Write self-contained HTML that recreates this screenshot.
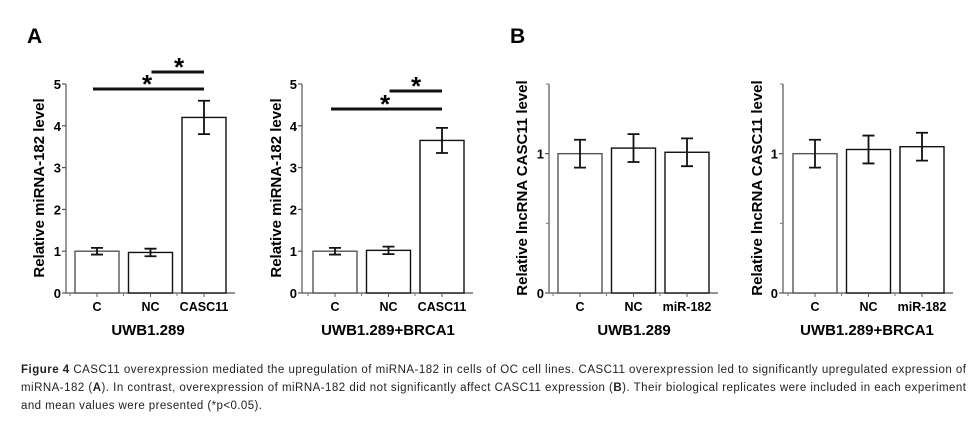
<!DOCTYPE html>
<html><head><meta charset="utf-8"><style>
body{margin:0;background:#fff;width:978px;height:429px;overflow:hidden}
svg{display:block}
text{font-family:"Liberation Sans",Arial,sans-serif}
</style></head><body>
<svg id="fig" width="978" height="429"></svg>
<script>
const catsA = ["C","NC","CASC11"];
const catsB = ["C","NC","miR-182"];
const valsA1 = [1.0, 0.97, 4.2];
const errA1 = [0.08, 0.09, 0.4];
const valsA2 = [1.0, 1.02, 3.65];
const errA2 = [0.08, 0.09, 0.3];
const valsB1 = [1.0, 1.04, 1.01];
const errB1 = [0.1, 0.1, 0.1];
const valsB2 = [1.0, 1.03, 1.05];
const errB2 = [0.1, 0.1, 0.1];
const ticksA = [0,1,2,3,4,5];
const ticksB = [0,1];
const minorB = [0.5,1.5];

const NS="http://www.w3.org/2000/svg";
const svg=document.getElementById('fig');
function el(tag,attrs,parent,txt){const e=document.createElementNS(NS,tag);for(const k in attrs)e.setAttribute(k,attrs[k]);if(txt!==undefined)e.textContent=txt;(parent||svg).appendChild(e);return e;}

function chart(o){
  const g=el('g',{});
  
  
  const y=v=>o.y0-(v/o.max)*(o.y0-o.yTop);
  const bw=44, step=o.step;
  const bx=i=>o.firstBar+i*step;
  const ya=el('line',{x1:o.ax,y1:o.y0,x2:o.ax,y2:o.yTop,stroke:'#555','stroke-width':1.2},g);
  
  const xa=el('line',{x1:o.ax,y1:o.y0,x2:o.axEnd,y2:o.y0,stroke:'#555','stroke-width':1.2},g);
  
  o.ticks.forEach(t=>{
    el('line',{x1:o.ax-4,y1:y(t),x2:o.ax,y2:y(t),stroke:'#555','stroke-width':1.2},g);
    const tl=el('text',{x:o.ax-5,y:y(t)+5,'text-anchor':'end','font-size':13,'font-weight':'bold'},g,String(t));
    
  });
  (o.minor||[]).forEach(t=>el('line',{x1:o.ax-3,y1:y(t),x2:o.ax,y2:y(t),stroke:'#777','stroke-width':1},g));
  o.vals.forEach((v,i)=>{
    const x=bx(i);
    const r=el('rect',{x:x,y:y(v),width:bw,height:o.y0-y(v),fill:'#fff',stroke:i===0?'#555':'#111','stroke-width':1.4},g);
    
    const cx=x+bw/2, hi=y(v+o.err[i]), lo=y(v-o.err[i]);
    const eb=el('path',{d:`M${cx},${hi}V${lo}M${cx-6},${hi}H${cx+6}M${cx-6},${lo}H${cx+6}`,stroke:'#111','stroke-width':1.8,fill:'none'},g);
    
    el('line',{x1:cx,y1:o.y0,x2:cx,y2:o.y0+4,stroke:'#555'},g);
    el('line',{x1:x-5,y1:o.y0,x2:x-5,y2:o.y0+3,stroke:'#777'},g);
    const xl=el('text',{x:cx,y:311,'text-anchor':'middle','font-size':12.5,'font-weight':'bold'},g,o.cats[i]);
    
  });
  const yt=el('text',{x:0,y:0,transform:`translate(${o.ylx},${o.ylc}) rotate(-90)`,'text-anchor':'middle','font-size':15,'font-weight':'bold'},g,o.ylabel);
  
  const ct=el('text',{x:o.tx,y:335,'text-anchor':'middle','font-size':15,'font-weight':'bold'},g,o.title);
  
  (o.sig||[]).forEach(s=>{
    const l=el('line',{x1:bx(s[0])+bw/2-s[3],y1:s[2],x2:bx(s[1])+bw/2,y2:s[2],stroke:'#111','stroke-width':3},g);
    
    const st=el('text',{x:s[4],y:s[2]+4,'text-anchor':'middle','font-size':26,'font-weight':'bold'},g,'*');
    
  });
}
chart({name:'chart-a-uwb1289',cats:catsA,vals:valsA1,err:errA1,ticks:ticksA,max:5,y0:293,yTop:84,ax:66,axEnd:235,firstBar:75,step:53.5,ylx:44,ylc:188,ylabel:'Relative miRNA-182 level',title:'UWB1.289',tx:148,
  sig:[[0,2,89,4,147],[1,2,72,-1,179]]});
chart({name:'chart-a-uwb1289-brca1',cats:catsA,vals:valsA2,err:errA2,ticks:ticksA,max:5,y0:293,yTop:84,ax:302,axEnd:473,firstBar:313,step:53.5,ylx:281,ylc:188,ylabel:'Relative miRNA-182 level',title:'UWB1.289+BRCA1',tx:388,
  sig:[[0,2,109,4,385],[1,2,91,-1,416]]});
chart({name:'chart-b-uwb1289',cats:catsB,vals:valsB1,err:errB1,ticks:ticksB,minor:minorB,max:1.5,y0:293,yTop:84,ax:549,axEnd:718,firstBar:558,step:53.5,ylx:527,ylc:188,ylabel:'Relative lncRNA CASC11 level',title:'UWB1.289',tx:634});
chart({name:'chart-b-uwb1289-brca1',cats:catsB,vals:valsB2,err:errB2,ticks:ticksB,minor:minorB,max:1.5,y0:293,yTop:84,ax:783,axEnd:953,firstBar:793,step:53.5,ylx:762,ylc:188,ylabel:'Relative lncRNA CASC11 level',title:'UWB1.289+BRCA1',tx:867});

const pa=el('text',{x:27,y:43,'font-size':21,'font-weight':'bold'},svg,'A');

const pb=el('text',{x:510,y:43,'font-size':21,'font-weight':'bold'},svg,'B');


const lines=[
 [373,945,[['Figure 4',true],[' CASC11 overexpression mediated the upregulation of miRNA-182 in cells of OC cell lines. CASC11 overexpression led to significantly upregulated expression of',false]]],
 [391,945,[['miRNA-182 (',false],['A',true],['). In contrast, overexpression of miRNA-182 did not significantly affect CASC11 expression (',false],['B',true],['). Their biological replicates were included in each experiment',false]]],
 [409,241,[['and mean values were presented (*p<0.05).',false]]]
];
lines.forEach(l=>{
  const t=el('text',{x:21,y:l[0],'font-size':11.5,fill:'#222',textLength:l[1],lengthAdjust:'spacing'},svg);
  
  
  l[2].forEach(p=>{el('tspan',p[1]?{'font-weight':'bold'}:{},t,p[0]);});
});
</script>
</body></html>
